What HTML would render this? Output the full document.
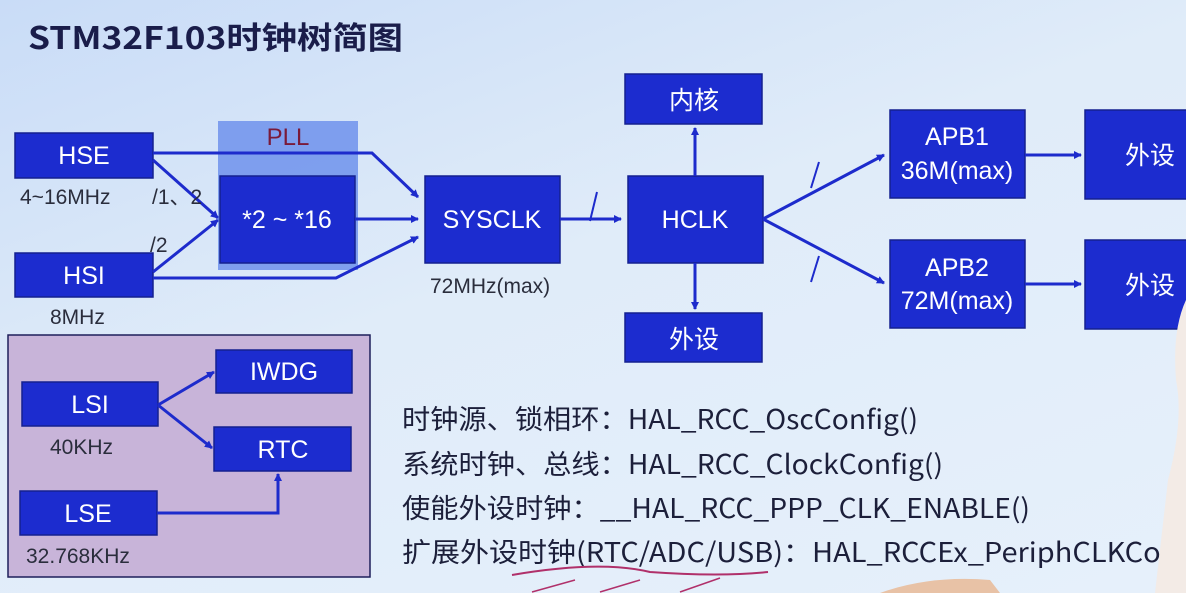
<!DOCTYPE html>
<html><head><meta charset="utf-8"><style>
html,body{margin:0;padding:0;width:1186px;height:593px;overflow:hidden;}
body{background:linear-gradient(160deg,#c9dcf7 0%,#e0ecf9 45%,#e6f0fb 100%);}
svg{display:block;font-family:"Liberation Sans","Noto Sans CJK SC",sans-serif;}
.b{fill:#1c2ccf;stroke:#14208f;stroke-width:1.5}
.w{fill:#fff;font-size:25px;text-anchor:middle}
.l{stroke:#1d2bcc;stroke-width:3;fill:none}
.k{fill:#2a2d3c;font-size:21px}
.c{fill:#1c1f3a;font-size:27px;font-family:"Noto Sans CJK SC",sans-serif}
</style></head><body>
<svg width="1186" height="593" viewBox="0 0 1186 593">
<defs><marker id="a" markerWidth="8" markerHeight="8" refX="7" refY="4" orient="auto" markerUnits="userSpaceOnUse"><path d="M0,0 L8,4 L0,8 z" fill="#1d2bcc"/></marker></defs>
<text x="28" y="49" font-size="31" font-weight="bold" fill="#1a1d4a" font-family="Noto Sans CJK SC,sans-serif" textLength="375" lengthAdjust="spacingAndGlyphs">STM32F103时钟树简图</text>

<rect x="218" y="121" width="140" height="149" fill="#6f92ec" opacity="0.85"/>
<text x="288" y="145" font-size="24" fill="#7a1a3a" text-anchor="middle">PLL</text>
<rect class="b" x="15" y="133" width="138" height="45"/>
<text class="w" x="84" y="164">HSE</text>
<text class="k" x="20" y="204">4~16MHz</text>
<rect class="b" x="15" y="253" width="138" height="44"/>
<text class="w" x="84" y="284">HSI</text>
<text class="k" x="50" y="324">8MHz</text>
<rect class="b" x="220" y="176" width="135" height="87"/>
<text class="w" x="287" y="228">*2 ~ *16</text>
<rect class="b" x="425" y="176" width="135" height="87"/>
<text class="w" x="492" y="228">SYSCLK</text>
<text class="k" x="430" y="293">72MHz(max)</text>
<rect class="b" x="628" y="176" width="135" height="87"/>
<text class="w" x="695" y="228">HCLK</text>
<rect class="b" x="625" y="74" width="137" height="50"/>
<text class="w" x="694" y="109" font-family="Noto Sans CJK SC,sans-serif">内核</text>
<rect class="b" x="625" y="313" width="137" height="49"/>
<text class="w" x="694" y="348" font-family="Noto Sans CJK SC,sans-serif">外设</text>
<rect class="b" x="890" y="110" width="135" height="88"/>
<text class="w" x="957" y="145">APB1</text><text class="w" x="957" y="179" font-size="22">36M(max)</text>
<rect class="b" x="890" y="240" width="135" height="88"/>
<text class="w" x="957" y="276">APB2</text><text class="w" x="957" y="309" font-size="22">72M(max)</text>
<rect class="b" x="1085" y="110" width="110" height="89"/>
<text class="w" x="1150" y="164" font-family="Noto Sans CJK SC,sans-serif">外设</text>
<rect class="b" x="1085" y="240" width="110" height="89"/>
<text class="w" x="1150" y="294" font-family="Noto Sans CJK SC,sans-serif">外设</text>

<path class="l" d="M153,153 L372,153 L418,197" marker-end="url(#a)"/>
<path class="l" d="M153,160 L218,218" marker-end="url(#a)"/>
<path class="l" d="M153,272 L218,220" marker-end="url(#a)"/>
<path class="l" d="M153,278 L336,278 L418,237" marker-end="url(#a)"/>
<path class="l" d="M355,219 L418,219" marker-end="url(#a)"/>
<path class="l" d="M560,219 L621,219" marker-end="url(#a)"/>
<text class="k" x="152" y="204">/1、2</text>
<text class="k" x="150" y="252">/2</text>
<line x1="590" y1="221" x2="597" y2="192" stroke="#1d2bcc" stroke-width="2"/>
<path class="l" d="M695,176 L695,128" marker-end="url(#a)"/>
<path class="l" d="M695,263 L695,309" marker-end="url(#a)"/>
<path class="l" d="M763,219 L884,155" marker-end="url(#a)"/>
<path class="l" d="M763,219 L884,283" marker-end="url(#a)"/>
<line x1="811" y1="188" x2="819" y2="162" stroke="#1d2bcc" stroke-width="2"/>
<line x1="811" y1="282" x2="819" y2="256" stroke="#1d2bcc" stroke-width="2"/>
<path class="l" d="M1025,155 L1081,155" marker-end="url(#a)"/>
<path class="l" d="M1025,284 L1081,284" marker-end="url(#a)"/>

<rect x="8" y="335" width="362" height="242" fill="#c8b4d9" stroke="#1e1f5a" stroke-width="1.5"/>
<rect class="b" x="216" y="350" width="136" height="43"/>
<text class="w" x="284" y="380">IWDG</text>
<rect class="b" x="22" y="382" width="136" height="44"/>
<text class="w" x="90" y="413">LSI</text>
<text class="k" x="50" y="454">40KHz</text>
<rect class="b" x="214" y="427" width="137" height="44"/>
<text class="w" x="283" y="458">RTC</text>
<rect class="b" x="20" y="491" width="137" height="44"/>
<text class="w" x="88" y="522">LSE</text>
<text class="k" x="26" y="563">32.768KHz</text>
<path class="l" d="M158,405 L214,372" stroke-width="2.5" marker-end="url(#a)"/>
<path class="l" d="M158,405 L212,448" stroke-width="2.5" marker-end="url(#a)"/>
<path class="l" d="M157,513 L278,513 L278,474" stroke-width="2.5" marker-end="url(#a)"/>

<text class="c" x="402" y="429" textLength="516" lengthAdjust="spacingAndGlyphs">时钟源、锁相环：HAL_RCC_OscConfig()</text>
<text class="c" x="402" y="474" textLength="541" lengthAdjust="spacingAndGlyphs">系统时钟、总线：HAL_RCC_ClockConfig()</text>
<text class="c" x="402" y="518" textLength="628" lengthAdjust="spacingAndGlyphs">使能外设时钟：__HAL_RCC_PPP_CLK_ENABLE()</text>
<text class="c" x="402" y="562" textLength="770" lengthAdjust="spacingAndGlyphs">扩展外设时钟(RTC/ADC/USB)：HAL_RCCEx_PeriphCLKCor</text>
<path d="M512,575 Q600,560 650,572 Q720,577 768,572" stroke="#b0306a" stroke-width="2" fill="none"/>
<path d="M575,580 L532,592 M640,580 L600,592 M720,578 L680,592" stroke="#b0306a" stroke-width="1.5" fill="none"/>
<path d="M1186,300 Q1172,330 1176,380 Q1184,420 1168,480 L1155,593 L1186,593 z" fill="#f3ebe6"/>
<path d="M880,593 Q930,575 990,580 L1000,593 z" fill="#e8c2a6"/>
</svg>
</body></html>
